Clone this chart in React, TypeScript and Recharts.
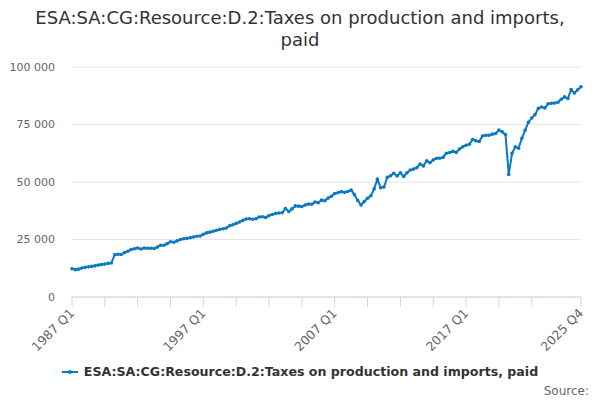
import { LineChart, Line, XAxis, YAxis, CartesianGrid } from "recharts";

const FIRST_YEAR = 1987;
const LAST_YEAR = 2025;

// quarterly values, 1987 Q1 .. 2025 Q4
const values = [
  12300, 11900, 12100, 12600, 12900, 13100, 13300, 13600, 13900, 14100,
  14300, 14600, 14800, 18400, 18600, 18500, 19300, 19900, 20600, 21000,
  21300, 20900, 21300, 21200, 21200, 21100, 21700, 22500, 22500, 23200,
  24000, 23800, 24400, 25000, 25300, 25500, 25800, 26100, 26400, 26500,
  27300, 27900, 28200, 28600, 29000, 29400, 29700, 30000, 31000, 31400,
  32000, 32600, 33300, 33900, 34000, 33800, 34000, 34800, 34900, 34600,
  35400, 35900, 36300, 36500, 36600, 38500, 37200, 38300, 39600, 39500,
  39300, 40000, 40400, 40300, 41300, 41000, 42100, 41900, 43000, 43800,
  45000, 45300, 45800, 45500, 45900, 46500, 44500, 42000, 40000, 41500,
  42900, 44000, 47000, 51200, 47500, 47800, 52000, 52700, 53800, 52600,
  54000, 52400, 54000, 55200, 55600, 56200, 57800, 57000, 59200, 58400,
  59600, 60300, 60300, 60700, 62500, 62800, 63300, 62900, 64300, 65300,
  66000, 66400, 68500, 67900, 67600, 70000, 70300, 70300, 70800, 71100,
  72600, 71800, 70600, 53300, 62500, 65300, 64700, 69000, 72500, 76000,
  77800, 79300, 82000, 82600, 82200, 84000, 84200, 84300, 84700, 86000,
  87000, 86300, 90200, 88700, 90100, 91400,
];

const quarters: string[] = [];
for (let y = FIRST_YEAR; y <= LAST_YEAR; y++) {
  for (let q = 1; q <= 4; q++) quarters.push(`${y} Q${q}`);
}

const tickQuarters = [
  "1987 Q1", "1989 Q3", "1992 Q1", "1994 Q3", "1997 Q1", "1999 Q3", "2002 Q1",
  "2004 Q3", "2007 Q1", "2009 Q3", "2012 Q1", "2014 Q3", "2017 Q1", "2019 Q3",
  "2022 Q1", "2025 Q4",
];
const labelQuarters = ["1987 Q1", "1997 Q1", "2007 Q1", "2017 Q1", "2025 Q4"];
const yTicks = [0, 25000, 50000, 75000, 100000];

const seriesName = "ESA:SA:CG:Resource:D.2:Taxes on production and imports, paid";
const titleLines = ["ESA:SA:CG:Resource:D.2:Taxes on production and imports,", "paid"];

const data = quarters.map((q, i) => ({ q, v: values[i] }));

const COLOR = "#0b79bf";
const FONT = "'DejaVu Sans', sans-serif";

const fmt = (v: number) => String(v).replace(/\B(?=(\d{3})+(?!\d))/g, " ");

function XTick(props: any) {
  const { x, y, payload } = props;
  if (!labelQuarters.includes(payload.value)) return null;
  return (
    <text
      x={x + 3}
      y={y + 5}
      transform={`rotate(-45 ${x + 3} ${y + 5})`}
      textAnchor="end"
      fontSize={12.5}
      fill="#666"
      fontFamily={FONT}
    >
      {payload.value}
    </text>
  );
}

export default function App() {
  return (
    <div
      style={{
        position: "absolute",
        left: 0,
        top: 0,
        width: 600,
        height: 400,
        background: "#fff",
        fontFamily: FONT,
      }}
    >
      <div
        style={{
          position: "absolute",
          top: 7,
          left: 0,
          width: 600,
          textAlign: "center",
          fontSize: 18,
          lineHeight: "22px",
          color: "#333",
        }}
      >
        {titleLines.map((t) => (
          <div key={t}>{t}</div>
        ))}
      </div>
      <LineChart
        width={600}
        height={400}
        data={data}
        margin={{ top: 67, right: 19, left: 0, bottom: 43 }}
      >
        <CartesianGrid vertical={false} stroke="#e6e6e6" />
        <XAxis
          dataKey="q"
          ticks={tickQuarters}
          interval={0}
          height={60}
          stroke="#ccd6eb"
          tickSize={10}
          tickMargin={2}
          tick={<XTick />}
        />
        <YAxis
          domain={[0, 100000]}
          ticks={yTicks}
          width={72}
          axisLine={false}
          tickLine={false}
          tickSize={0}
          tickMargin={17}
          tickFormatter={fmt}
          tick={{ fontSize: 11, fill: "#666", fontFamily: FONT }}
        />
        <Line
          type="linear"
          dataKey="v"
          stroke={COLOR}
          strokeWidth={2}
          dot={{ r: 1.8, fill: COLOR, stroke: COLOR, strokeWidth: 0 }}
          isAnimationActive={false}
        />
      </LineChart>
      <div
        style={{
          position: "absolute",
          top: 364,
          left: 0,
          width: 600,
          display: "flex",
          justifyContent: "center",
          alignItems: "center",
          fontSize: 12.6,
          fontWeight: "bold",
          color: "#333",
        }}
      >
        <svg width={16} height={12} style={{ marginRight: 6 }}>
          <line x1={0} y1={6} x2={16} y2={6} stroke={COLOR} strokeWidth={2} />
          <circle cx={8} cy={6} r={2} fill={COLOR} />
        </svg>
        <span>{seriesName}</span>
      </div>
      <div
        style={{
          position: "absolute",
          top: 384,
          right: 11,
          fontSize: 12,
          color: "#666",
        }}
      >
        Source:
      </div>
    </div>
  );
}
